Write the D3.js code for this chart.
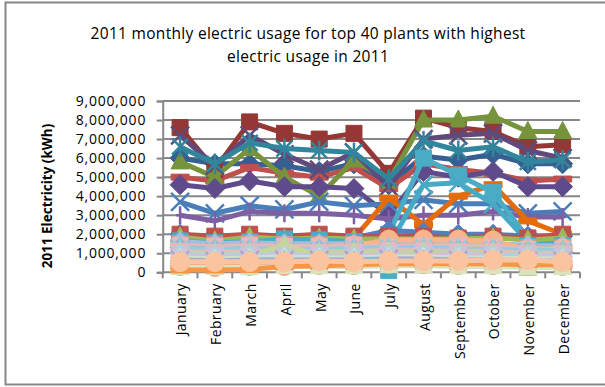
<!DOCTYPE html>
<html>
<head>
<meta charset="utf-8">
<script src="https://cdn.jsdelivr.net/npm/d3@7"></script>
<style>
  body { margin: 0; background: #fff; }
  text { font-family: "Open Sans", sans-serif; fill: #000; }
</style>
</head>
<body>
<div id="chart"></div>
<script>
var svgWidth = 605;
var svgHeight = 387;

var margin = { top: 101, right: 25, bottom: 114.7, left: 162.7 };
var width = svgWidth - margin.left - margin.right;
var height = svgHeight - margin.top - margin.bottom;

var titleLines = ["2011 monthly electric usage for top 40 plants with highest", "electric usage in 2011"];
var yTitle = "2011 Electricity (kWh)";
var months = ["January", "February", "March", "April", "May", "June",
  "July", "August", "September", "October", "November", "December"];
var yTicks = [0, 1000000, 2000000, 3000000, 4000000, 5000000, 6000000, 7000000, 8000000, 9000000];

// monthly usage per plant, millions of kWh (Jan..Dec)
var p01 = [6.0, 5.7, 5.7, 5.6, 5.3, 5.7, 4.6, 6.1, 5.9, 6.2, 5.7, 5.7];
var p02 = [5.0, 4.8, 5.5, 5.2, 5.0, 5.5, 4.4, 5.7, 5.4, 5.2, 4.8, 4.9];
var p03 = [7.6, 5.4, 7.9, 7.3, 7.0, 7.3, 5.2, 8.1, 7.6, 7.4, 6.6, 6.7];
var p04 = [5.8, 5.0, 6.5, 5.0, 4.0, 5.9, 4.8, 8.0, 8.0, 8.2, 7.4, 7.4];
var p05 = [7.2, 5.6, 7.2, 6.2, 5.4, 6.3, 4.5, 7.0, 7.2, 7.3, 6.4, 6.0];
var p06 = [6.6, 5.7, 6.8, 6.5, 6.4, 6.3, 4.9, 6.9, 6.4, 6.6, 5.8, 5.9];
var p07 = [4.6, 4.4, 4.8, 4.5, 4.5, 4.4, 3.0, 5.3, 5.0, 5.3, 4.5, 4.5];
var p08 = [3.7, 3.1, 3.5, 3.3, 3.7, 3.5, 3.6, 3.8, 3.6, 3.6, 3.1, 3.2];
var p09 = [3.0, 2.7, 3.2, 3.1, 3.1, 3.0, 2.8, 3.0, 3.0, 3.2, 2.9, 2.9];
var p10 = [1.6, 1.6, 1.7, 1.6, 1.7, 1.8, 3.9, 2.5, 4.0, 4.6, 2.7, 2.0];
var p11 = [1.8, 1.7, 1.8, 1.8, 1.7, 1.8, 2.0, 6.0, 5.1, 4.2, 1.8, 1.7];
var p12 = [1.2, 1.1, 1.2, 1.2, 1.2, 1.3, 1.4, 4.6, 4.7, 3.6, 1.6, 1.5];
var p13 = [2.0, 1.8, 1.75, 1.7, 1.75, 1.8, 2.2, 2.1, 2.0, 2.0, 1.9, 1.9];
var p14 = [2.0, 1.9, 2.0, 1.9, 2.0, 1.9, 1.9, 1.9, 1.8, 1.9, 1.8, 2.0];
var p15 = [1.85, 1.65, 1.85, 1.75, 1.8, 1.75, 1.75, 1.75, 1.75, 1.8, 1.7, 1.8];
var p16 = [1.65, 1.55, 1.6, 1.75, 1.7, 1.6, 0.1, 1.6, 1.5, 1.5, 1.4, 1.4];
var p17 = [1.5, 1.45, 1.5, 1.45, 1.45, 1.45, 1.5, 1.5, 1.5, 1.45, 1.3, 1.3];
var p18 = [1.3, 1.2, 1.3, 1.3, 1.35, 1.4, 1.7, 1.7, 1.7, 1.65, 1.2, 1.25];
var p19 = [1.3, 1.2, 1.2, 1.2, 1.2, 1.2, 1.2, 1.2, 1.2, 1.2, 1.1, 1.1];
var p20 = [1.2, 1.1, 1.15, 1.1, 1.1, 1.1, 1.1, 1.1, 1.15, 1.1, 1.0, 1.05];
var p21 = [1.1, 1.0, 1.05, 1.0, 1.0, 1.0, 1.0, 1.0, 1.0, 1.05, 1.0, 1.0];
var p22 = [0.9, 0.9, 0.9, 1.4, 0.9, 0.95, 0.9, 0.95, 0.9, 0.9, 0.2, 0.85];
var p23 = [0.95, 0.85, 0.9, 0.9, 0.85, 0.85, 0.9, 0.9, 0.9, 0.85, 0.8, 0.8];
var p24 = [1.4, 1.35, 1.4, 1.35, 1.35, 1.4, 1.35, 1.4, 1.4, 1.35, 1.2, 1.2];
var p25 = [0.75, 0.7, 0.75, 0.8, 0.75, 0.75, 0.8, 0.8, 0.75, 0.75, 0.7, 0.7];
var p26 = [0.85, 0.8, 0.8, 0.8, 0.8, 0.8, 0.85, 0.85, 0.85, 0.8, 0.75, 0.75];
var p27 = [0.7, 0.65, 0.7, 0.7, 0.7, 0.7, 0.75, 0.7, 0.7, 0.7, 0.65, 0.65];
var p28 = [0.12, 0.12, 0.15, 0.3, 0.35, 0.4, 0.45, 0.45, 0.45, 0.45, 0.4, 0.4];
var p29 = [0.45, 0.45, 0.5, 0.45, 0.45, 0.45, 0.5, 0.5, 0.5, 0.5, 0.45, 0.45];
var p30 = [0.55, 0.55, 0.55, 0.55, 0.6, 0.55, 0.6, 0.6, 0.6, 0.65, 0.65, 0.55];
var p31 = [1.6, 1.5, 1.55, 1.5, 1.5, 1.5, 1.5, 1.5, 1.5, 1.5, 1.4, 1.4];
var p32 = [0.95, 0.9, 0.95, 0.95, 0.9, 0.95, 1.0, 1.0, 0.95, 0.95, 0.9, 0.9];
var p33 = [1.25, 1.2, 1.25, 1.2, 1.2, 1.25, 1.3, 1.3, 1.25, 1.2, 1.15, 1.15];
var p34 = [1.1, 1.05, 1.1, 1.1, 1.05, 1.1, 1.15, 1.15, 1.1, 1.1, 1.0, 1.0];
var p35 = [1.05, 0.95, 1.0, 1.0, 1.0, 1.05, 1.05, 1.05, 1.0, 1.0, 0.95, 0.95];
var p36 = [0.6, 0.55, 0.6, 0.6, 0.6, 0.6, 0.65, 0.65, 0.6, 0.6, 0.55, 0.55];
var p37 = [0.35, 0.3, 0.35, 0.35, 0.4, 0.4, 0.45, 0.45, 0.4, 0.4, 0.35, 0.35];
var p38 = [0.25, 0.25, 0.25, 0.3, 0.3, 0.3, 0.35, 0.35, 0.3, 0.3, 0.25, 0.25];
var p39 = [0.65, 0.6, 0.65, 0.65, 0.65, 0.65, 0.7, 0.7, 0.65, 0.65, 0.6, 0.6];
var p40 = [1.0, 0.95, 1.0, 1.0, 1.0, 1.0, 1.05, 1.05, 1.0, 1.0, 0.95, 0.95];

// drawing order: later ones sit on top
var seriesList = [p01, p02, p03, p04, p05, p06, p07, p08, p09, p10, p11, p12,
  p13, p14, p15, p16, p17, p31, p18, p24, p19, p20, p33, p21, p34, p40, p35,
  p32, p22, p23, p26, p25, p27, p39, p36, p29, p37, p38, p28, p30];
var seriesColors = ["#376092", "#C0504D", "#953735", "#77933C", "#604A7B", "#31859C",
  "#5F4B8B", "#4A7EBB", "#7E5FA3", "#E46C0A", "#4BACC6", "#46AAC5",
  "#4F81BD", "#C0504D", "#9BBB59", "#4BACC6", "#D99694", "#A6BDDB", "#F9B48A", "#E6B9B8",
  "#95B3D7", "#B3A2C7", "#93CDDD", "#93CDDD", "#E6B9B8", "#B9CDE5", "#C3D69B",
  "#CCC1DA", "#C3D69B", "#B9CDE5", "#CCC1DA", "#D7E4BD", "#B7DEE8", "#B3A2C7", "#95B3D7",
  "#31859C", "#F2A583", "#D7E4BD", "#F79646", "#FAC4A0"];
var seriesMarkers = ["diamond", "dash", "square", "triangle", "x", "star",
  "diamond", "x", "plus", "dash", "square", "x",
  "diamond", "square", "triangle", "square", "square", "diamond", "circle", "square",
  "diamond", "x", "star", "star", "square", "diamond", "triangle",
  "x", "triangle", "diamond", "x", "triangle", "star", "x", "diamond",
  "none", "circle", "triangle", "dash", "circle"];

var svg = d3.select("#chart")
  .append("svg")
  .attr("width", svgWidth)
  .attr("height", svgHeight);

// outer frame
svg.append("rect")
  .attr("x", 5.5)
  .attr("y", 2.5)
  .attr("width", 620)
  .attr("height", 382)
  .attr("fill", "none")
  .attr("stroke", "#878787")
  .attr("stroke-width", 2);

svg.selectAll(".title")
  .data(titleLines)
  .enter()
  .append("text")
  .attr("x", 308)
  .attr("y", (d, i) => 39 + i * 23)
  .attr("text-anchor", "middle")
  .style("font-size", "15.5px")
  .style("letter-spacing", "0.3px")
  .text(d => d);

svg.append("text")
  .attr("transform", "translate(52, 196) rotate(-90)")
  .attr("text-anchor", "middle")
  .style("font-size", "13.5px")
  .style("font-weight", "bold")
  .text(yTitle);

var chartGroup = svg.append("g")
  .attr("transform", `translate(${margin.left}, ${margin.top})`);

var xScale = d3.scaleBand().domain(months).range([0, width]);
var yScale = d3.scaleLinear().domain([0, 9000000]).range([height, 0]);

// gridlines
chartGroup.selectAll(".grid")
  .data(yTicks.slice(1))
  .enter()
  .append("line")
  .attr("x1", 0)
  .attr("x2", width)
  .attr("y1", d => yScale(d))
  .attr("y2", d => yScale(d))
  .attr("stroke", "#878787")
  .attr("stroke-width", 2);

var leftAxis = d3.axisLeft(yScale)
  .tickValues(yTicks)
  .tickFormat(d3.format(","))
  .tickSize(6)
  .tickPadding(10.5);

var yAxis = chartGroup.append("g").call(leftAxis);
yAxis.select(".domain").attr("stroke", "#878787").attr("stroke-width", 2);
yAxis.selectAll(".tick line").attr("stroke", "#878787").attr("stroke-width", 2);
yAxis.selectAll("text")
  .style("font-family", "\"Open Sans\", sans-serif")
  .style("font-size", "14px")
  .style("letter-spacing", "0.8px")
  .attr("fill", "#000");

// x axis with ticks between categories
var xAxis = chartGroup.append("g").attr("transform", `translate(0, ${height})`);
xAxis.append("line")
  .attr("x1", 0)
  .attr("x2", width)
  .attr("stroke", "#878787")
  .attr("stroke-width", 2);
xAxis.selectAll(".xtick")
  .data(months.concat(["end"]))
  .enter()
  .append("line")
  .attr("x1", d => d == "end" ? width : xScale(d))
  .attr("x2", d => d == "end" ? width : xScale(d))
  .attr("y1", 0)
  .attr("y2", 6)
  .attr("stroke", "#878787")
  .attr("stroke-width", 2);
xAxis.selectAll(".xlabel")
  .data(months)
  .enter()
  .append("text")
  .attr("transform", d => `translate(${xScale(d) + xScale.bandwidth() / 2 + 1.5}, 11) rotate(-90)`)
  .attr("dy", "0.35em")
  .attr("text-anchor", "end")
  .style("font-size", "14px")
  .style("letter-spacing", "0.4px")
  .text(d => d);

var line = d3.line()
  .x((d, i) => xScale(months[i]) + xScale.bandwidth() / 2)
  .y(d => yScale(d * 1000000));

function markerPath(type) {
  if (type == "diamond") return "M0,-10L10,0L0,10L-10,0Z";
  if (type == "square") return "M-8,-8H8V8H-8Z";
  if (type == "triangle") return "M0,-10L9,7H-9Z";
  if (type == "circle") return d3.symbol(d3.symbolCircle, 300)();
  if (type == "dash") return "M-9,-3H9V3H-9Z";
  if (type == "x") return "M-9,-9L9,9M-9,9L9,-9";
  if (type == "star") return "M-8,-8L8,8M-8,8L8,-8M0,-10V10";
  if (type == "plus") return "M0,-9V9M-4,0H4";
  return null;
}

seriesList.forEach(function(values, k) {
  var color = seriesColors[k];
  var type = seriesMarkers[k];
  var g = chartGroup.append("g");
  g.append("path")
    .datum(values)
    .attr("d", line)
    .attr("fill", "none")
    .attr("stroke", color)
    .attr("stroke-width", 5)
    .attr("stroke-linejoin", "round");
  if (type == "none") return;
  var open = (type == "x" || type == "star" || type == "plus");
  g.selectAll(".mk")
    .data(values)
    .enter()
    .append("path")
    .attr("transform", (d, i) => `translate(${xScale(months[i]) + xScale.bandwidth() / 2}, ${yScale(d * 1000000)})`)
    .attr("d", markerPath(type))
    .attr("fill", open ? "none" : color)
    .attr("stroke", color)
    .attr("stroke-width", open ? 2.5 : 1);
});
</script>
</body>
</html>
